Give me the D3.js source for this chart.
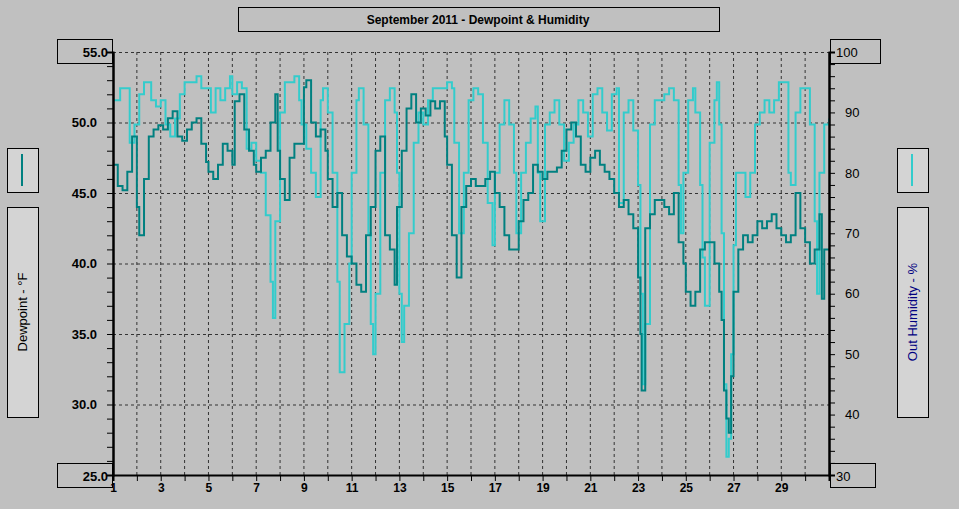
<!DOCTYPE html>
<meta charset="utf-8">
<style>
body { margin:0; background:#c0c0c0; }
text { font-family: Arial, "Liberation Sans", sans-serif; }
</style>
<body>
<svg id="chart" width="959" height="509"></svg>
<script src="https://cdn.jsdelivr.net/npm/d3@7"></script>
<script>

var title = "September 2011 - Dewpoint & Humidity";
var dayTicks = [1,3,5,7,9,11,13,15,17,19,21,23,25,27,29];
var dewTicks = [30,35,40,45,50];
var humTicks = [40,50,60,70,80,90];

var dewTimes = [1.0,1.2,1.4,1.6,1.8,2.0,2.1,2.3,2.5,2.7,2.9,3.1,3.3,3.5,3.7,3.9,4.1,4.3,4.5,4.7,4.9,5.0,5.2,5.4,5.6,5.8,6.0,6.1,6.3,6.5,6.7,6.9,7.0,7.2,7.4,7.6,7.8,7.9,8.0,8.2,8.4,8.6,8.8,9.0,9.1,9.3,9.5,9.7,9.9,10.0,10.2,10.4,10.6,10.8,11.0,11.2,11.4,11.6,11.8,12.0,12.2,12.4,12.6,12.8,12.9,13.1,13.3,13.5,13.7,13.9,14.1,14.3,14.5,14.7,14.9,15.0,15.2,15.4,15.6,15.8,16.0,16.2,16.4,16.6,16.8,17.0,17.2,17.4,17.6,17.8,18.0,18.2,18.4,18.6,18.8,19.0,19.2,19.4,19.6,19.8,20.0,20.2,20.4,20.6,20.8,21.0,21.2,21.4,21.6,21.8,22.0,22.2,22.4,22.6,22.8,23.0,23.1,23.15,23.3,23.5,23.7,23.9,24.1,24.3,24.5,24.7,24.9,25.0,25.2,25.4,25.6,25.8,26.0,26.2,26.4,26.5,26.6,26.7,26.8,26.9,27.0,27.2,27.4,27.6,27.8,28.0,28.2,28.4,28.6,28.8,29.0,29.2,29.4,29.6,29.8,30.0,30.2,30.4,30.6,30.7,30.8,31.0];
var dewValues = [47,45.5,45.2,46.5,49,44,42,46,49,49.5,49.8,49.5,50.3,50.8,49,48.7,49.5,50,50.3,48.5,47.2,46.5,46,47,48.5,48,47,51.5,52,49.5,48,47,46.5,47.5,48,50,52,48,46,44.5,47.5,48.5,48.5,52.5,53,50,49,49.5,48,46,44,45,42,40.5,40,38.5,38,42,44,48,49,42,41,38.5,44,48,51,52,50,51,50.5,51.5,51,51.5,49,47,42,39,44,45.5,46,45.5,45.5,46,46.5,45,44,42,41,41,43,44.5,45,47,46.5,46,46.5,46.5,46.8,48,49.5,50,49,47,46.5,47.5,48,47,46.5,46,45,44,44.5,43.5,42.5,39,35,31,42.5,43.5,44.5,44.5,44,43.5,45,41.5,40,38,37,38,41,41.5,41.5,40,38,36,31,29,28,32,38,41,42,41.5,42,43,42.5,43,43.5,42.5,42,41.5,42,45,42.5,41.5,40,41,43.5,37.5,41,41];

var humTimes = [1.0,1.3,1.5,1.7,1.9,2.1,2.3,2.6,2.8,3.0,3.2,3.4,3.6,3.8,4.0,4.3,4.5,4.7,4.9,5.1,5.3,5.5,5.7,5.9,6.0,6.2,6.4,6.6,6.8,7.0,7.2,7.4,7.6,7.7,7.8,8.0,8.2,8.4,8.6,8.8,8.9,9.1,9.3,9.5,9.7,9.8,10.0,10.2,10.4,10.5,10.7,10.9,11.0,11.2,11.3,11.5,11.7,11.8,11.9,12.0,12.2,12.4,12.6,12.8,12.9,13.0,13.1,13.2,13.4,13.6,13.8,14.0,14.2,14.4,14.6,14.8,15.0,15.2,15.3,15.5,15.7,15.9,16.1,16.3,16.5,16.7,16.9,17.0,17.2,17.4,17.6,17.8,17.9,18.1,18.3,18.5,18.7,18.8,18.9,19.1,19.3,19.5,19.7,19.9,20.1,20.3,20.5,20.7,20.9,21.1,21.3,21.5,21.7,21.9,22.1,22.2,22.4,22.6,22.8,23.0,23.1,23.2,23.3,23.5,23.7,23.9,24.1,24.3,24.5,24.7,24.8,24.9,25.1,25.3,25.4,25.6,25.7,25.8,26.0,26.2,26.3,26.4,26.5,26.6,26.7,26.8,26.9,27.0,27.1,27.3,27.5,27.7,27.9,28.1,28.3,28.5,28.7,28.9,29.1,29.3,29.4,29.6,29.8,30.0,30.2,30.4,30.5,30.6,30.8,31.0];
var humValues = [92,94,94,85,88,93,95,92,91,92,88,86,89,93,95,95,96,94,94,90,94,92,94,96,93,95,94,84,85,82,80,73,62,56,72,90,95,95,96,92,88,84,80,76,92,94,90,80,62,47,55,65,80,92,94,88,70,55,50,60,80,92,94,90,80,60,52,58,70,85,90,88,92,94,94,94,95,94,85,70,80,92,94,93,85,75,68,80,88,92,88,80,70,80,85,89,91,80,72,88,90,92,88,82,85,88,92,90,86,93,94,90,87,93,94,75,90,92,87,78,60,45,55,88,92,92,93,94,92,78,70,80,92,94,90,78,66,58,85,92,95,88,70,45,33,36,50,68,80,80,76,80,88,90,92,90,92,95,95,80,78,90,94,94,88,72,60,80,88,89];

var svg = d3.select("#chart");
var plotLeft = 113, plotRight = 829, plotTop = 52, plotBottom = 475;

var x = d3.scaleLinear().domain([1,31]).range([plotLeft,plotRight]);
var yDew = d3.scaleLinear().domain([25,55]).range([plotBottom,plotTop]);
var yHum = d3.scaleLinear().domain([30,100]).range([plotBottom,plotTop]);

function box(x0, y0, w, h, fill) {
  svg.append("rect").attr("x",x0+0.5).attr("y",y0+0.5).attr("width",w).attr("height",h)
    .attr("fill",fill||"none").attr("stroke","#000");
}

// title
box(238,7,481,24,"#c0c0c0");
svg.append("text").attr("x",478).attr("y",24).attr("text-anchor","middle")
  .attr("font-size",12).attr("font-weight","bold").text(title);

// grid
var days = d3.range(2,31);
svg.append("g").selectAll("line").data(days).join("line")
  .attr("x1",d=>x(d)).attr("x2",d=>x(d)).attr("y1",plotTop).attr("y2",plotBottom)
  .attr("stroke","#333").attr("stroke-dasharray","3,3");
svg.append("g").selectAll("line").data([30,35,40,45,50,55]).join("line")
  .attr("x1",plotLeft).attr("x2",plotRight).attr("y1",d=>yDew(d)+0.5).attr("y2",d=>yDew(d)+0.5)
  .attr("stroke","#333").attr("stroke-dasharray","3,3");

// series
var dewLine = d3.line().x((d,i)=>x(dewTimes[i])).y(d=>yDew(d)).curve(d3.curveStepAfter);
var humLine = d3.line().x((d,i)=>x(humTimes[i])).y(d=>yHum(d)).curve(d3.curveStepAfter);
svg.append("path").datum(humValues).attr("d",humLine).attr("fill","none")
  .attr("stroke","#33cccc").attr("stroke-width",2);
svg.append("path").datum(dewValues).attr("d",dewLine).attr("fill","none")
  .attr("stroke","#008080").attr("stroke-width",2);

// axes
var gl = svg.append("g").attr("transform","translate("+plotLeft+",0)")
  .call(d3.axisLeft(yDew).tickValues(dewTicks).tickSize(0).tickPadding(16).tickFormat(d3.format(".1f")));
gl.selectAll("text").attr("font-size",13).attr("font-weight","bold").attr("fill","#000");
svg.append("g").attr("transform","translate("+plotLeft+",0)")
  .call(d3.axisLeft(yDew).ticks(30).tickFormat("").tickSize(6));
var gr = svg.append("g").attr("transform","translate("+plotRight+",0)")
  .call(d3.axisRight(yHum).tickValues(humTicks).tickSize(0).tickPadding(16));
gr.selectAll("text").attr("font-size",13).attr("fill","#000");
svg.append("g").attr("transform","translate("+plotRight+",0)")
  .call(d3.axisRight(yHum).ticks(35).tickFormat("").tickSize(6));
var gb = svg.append("g").attr("transform","translate(0,"+plotBottom+")")
  .call(d3.axisBottom(x).tickValues(d3.range(1,32)).tickFormat(d=>dayTicks.includes(d)?d:"").tickSize(6).tickPadding(2));
gb.selectAll("text").attr("font-size",12).attr("font-weight","bold").attr("fill","#000");
svg.selectAll(".domain").attr("stroke","#000").attr("stroke-width",2);

// end value boxes
box(57,39,55,24); box(57,463,55,24); box(830,39,50,24); box(830,463,45,24);
[[108,57,"55.0"],[108,481,"25.0"],[836,57,"100"],[836,481,"30"]].forEach(function(t){
  svg.append("text").attr("x",t[0]).attr("y",t[1]).attr("text-anchor",t[0]<500?"end":"start")
    .attr("font-size",13).attr("font-weight",t[0]<500?"bold":"normal").text(t[2]);
});

// legend boxes
function legend(x0, color, label, textColor) {
  svg.append("rect").attr("x",x0+26).attr("y",149).attr("width",5).attr("height",44).attr("fill","#808080");
  svg.append("rect").attr("x",x0+26).attr("y",208).attr("width",5).attr("height",210).attr("fill","#808080");
  box(x0,148,31,44,"#d4d4d4");
  box(x0,207,31,210,"#d4d4d4");
  svg.append("line").attr("x1",x0+15).attr("x2",x0+15).attr("y1",154).attr("y2",186)
    .attr("stroke",color).attr("stroke-width",2);
  svg.append("text").attr("transform","translate("+(x0+20)+",312) rotate(-90)")
    .attr("text-anchor","middle").attr("font-size",13).attr("fill",textColor).text(label);
}
legend(7,"#008080","Dewpoint - °F","#000");
legend(897,"#33cccc","Out Humidity - %","#000080");

</script>
